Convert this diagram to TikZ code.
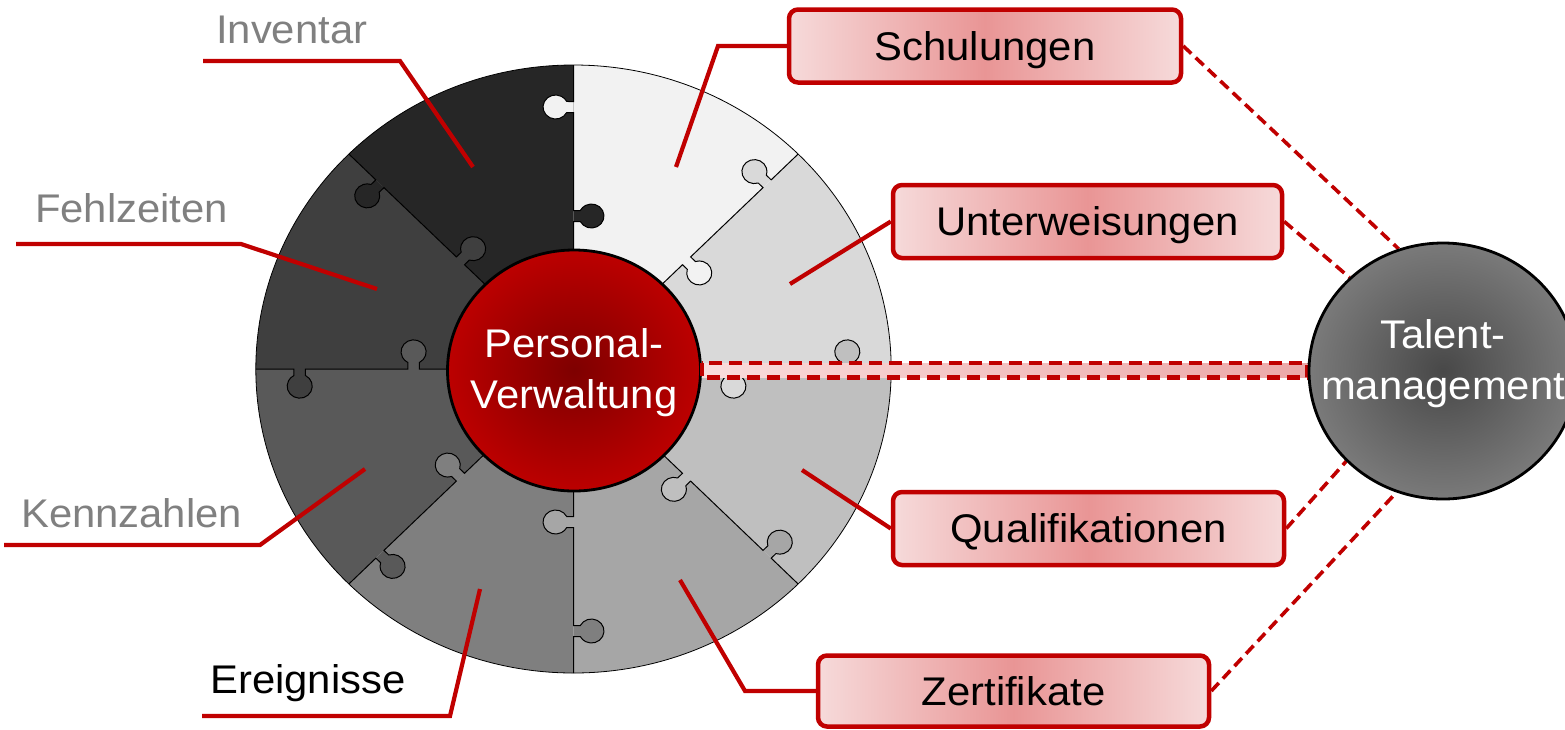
\documentclass[tikz,border=0pt]{standalone}
\usepackage{fontspec}
\setmainfont{Liberation Sans}[FakeStretch=1.045]
\usetikzlibrary{shapes.geometric}
\definecolor{pA}{HTML}{D9D9D9}
\definecolor{pB}{HTML}{F2F2F2}
\definecolor{pC}{HTML}{262626}
\definecolor{pD}{HTML}{3F3F3F}
\definecolor{pE}{HTML}{595959}
\definecolor{pF}{HTML}{7F7F7F}
\definecolor{pG}{HTML}{A6A6A6}
\definecolor{pH}{HTML}{BFBFBF}
\definecolor{dred}{HTML}{C00000}
\definecolor{lgray}{HTML}{808080}
\definecolor{boxin}{HTML}{E99595}
\definecolor{boxout}{HTML}{F6DADA}
\definecolor{bandL}{HTML}{F9DCDC}
\definecolor{bandR}{HTML}{EBA8A8}
\definecolor{pvin}{HTML}{7E0000}
\definecolor{pvout}{HTML}{BC0000}
\definecolor{tmin}{HTML}{484848}
\definecolor{tmout}{HTML}{7A7A7A}
\tikzset{
  leader/.style={draw=dred, line width=4.2pt},
  dashlink/.style={draw=dred, line width=3.6pt, dash pattern=on 11pt off 6pt},
  banddash/.style={draw=dred, line width=4.5pt, dash pattern=on 13pt off 7pt},
  sidebox/.style={draw=dred, line width=4.5pt, rounded corners=9pt,
    left color=boxout, right color=boxout, middle color=boxin, minimum height=73pt, inner sep=0pt,
    text height=28.6pt, text depth=0pt, font=\fontsize{40}{48}\selectfont},
  lbl/.style={anchor=base west, inner sep=0pt, font=\fontsize{40}{48}\selectfont},
  seam/.style={line width=1pt, draw=black},
  bigcircle/.style={ellipse, draw=black, line width=2.8pt, inner sep=0pt},
  circletext/.style={align=center, text=white, inner sep=0pt, font=\fontsize{40}{51}\selectfont},
}
% one seam between two puzzle pieces: #1 angle, #2 colour of piece before, #3 colour of piece after
\newcommand\puzzleseam[3]{%
  \begin{scope}[rotate=#1]
    \fill[#2] (256.5,0) -- (256.5,6.5) arc[start angle=242.7, end angle=-62.7, radius=12] -- (267.5,0) -- cycle;
    \fill[#3] (147.5,0) -- (147.5,-6.5) arc[start angle=117.3, end angle=422.7, radius=12] -- (158.5,0) -- cycle;
    \draw[seam] (0,0) -- (147.5,0) -- (147.5,-6.5) arc[start angle=117.3, end angle=422.7, radius=12]
      -- (158.5,0) -- (256.5,0) -- (256.5,6.5) arc[start angle=242.7, end angle=-62.7, radius=12]
      -- (267.5,0) -- (304,0);
  \end{scope}}
\begin{document}
\begin{tikzpicture}[x=1pt, y=-1pt]
\useasboundingbox (0,0) rectangle (1565,729);

% puzzle ring
\begin{scope}[shift={(573.5,369)}, xscale=1.045, x=1pt, y=1pt]
  \foreach \a/\c in {0/pA,45/pB,90/pC,135/pD,180/pE,225/pF,270/pG,315/pH}
    \fill[\c] (0,0) -- (\a:304) arc[start angle=\a, delta angle=45, radius=304] -- cycle;
  \puzzleseam{0}{pH}{pA}
  \puzzleseam{45}{pA}{pB}
  \puzzleseam{90}{pB}{pC}
  \puzzleseam{135}{pC}{pD}
  \puzzleseam{180}{pD}{pE}
  \puzzleseam{225}{pE}{pF}
  \puzzleseam{270}{pF}{pG}
  \puzzleseam{315}{pG}{pH}
  \draw[line width=0.8pt] (0,0) circle[radius=304];
\end{scope}

% left labels
\node[lbl, text=lgray] (inv) at (216,43) {Inventar};
\node[lbl, text=lgray] (fz) at (35,222) {Fehlzeiten};
\node[lbl, text=lgray] (kz) at (21,527) {Kennzahlen};
\node[lbl, text=black] (er) at (210,693) {Ereignisse};

\coordinate (inv1) at (203,61);  \coordinate (inv2) at (400,61);  \coordinate (inv3) at (473,167);
\coordinate (fz1) at (16,244);   \coordinate (fz2) at (241,244);  \coordinate (fz3) at (377,289);
\coordinate (kz1) at (4,545);    \coordinate (kz2) at (260,545);  \coordinate (kz3) at (365,469);
\coordinate (er1) at (202,716);  \coordinate (er2) at (450,716);  \coordinate (er3) at (480,589);
\draw[leader] (inv1) -- (inv2) -- (inv3);
\draw[leader] (fz1) -- (fz2) -- (fz3);
\draw[leader] (kz1) -- (kz2) -- (kz3);
\draw[leader] (er1) -- (er2) -- (er3);

% right boxes
\node[sidebox, minimum width=392pt] (S) at (985,46) {Schulungen};
\node[sidebox, minimum width=389pt] (U) at (1087.5,221.5) {Unterweisungen};
\node[sidebox, minimum width=391pt] (Q) at (1088.5,528.5) {Qualifikationen};
\node[sidebox, minimum width=391pt, minimum height=71pt] (Z) at (1013.5,691) {Zertifikate};

\coordinate (s1) at (676,167); \coordinate (s2) at (718,46);
\coordinate (u1) at (790,284);
\coordinate (q1) at (802,470);
\coordinate (z1) at (680,580); \coordinate (z2) at (745,691);
\draw[leader] (s1) -- (s2) -- (S.west);
\draw[leader] (u1) -- (U.west);
\draw[leader] (q1) -- (Q.west);
\draw[leader] (z1) -- (z2) -- (Z.west);

% centre circle
\node[bigcircle, minimum width=253pt, minimum height=241pt, inner color=pvin, outer color=pvout]
  (P) at (574,370.5) {};
\node[circletext, yshift=-2pt] (Pt) at (P) {Personal-\\Verwaltung};

% talent circle outline reference
\coordinate (Tc) at (1443,371);
\node[bigcircle, minimum width=268pt, minimum height=256pt, draw=none] (Tref) at (Tc) {};

% band
\fill[left color=bandL, right color=bandR] ([yshift=7.5pt]P.east) rectangle ([yshift=-6.5pt]Tref.west);
\draw[banddash] ([yshift=7.5pt]P.east) rectangle ([yshift=-6.5pt]Tref.west);

% dashed links
\draw[dashlink] (S.east) -- (Tref.110);
\draw[dashlink] (U.east) -- (Tref.135);
\draw[dashlink] (Q.east) -- (Tref.223);
\draw[dashlink] (Z.east) -- (Tref.249);

\node[bigcircle, minimum width=268pt, minimum height=256pt, inner color=tmin, outer color=tmout]
  (T) at (Tc) {};
\node[circletext, yshift=7pt] (Tt) at (T) {Talent-\\management};
\end{tikzpicture}
\end{document}
